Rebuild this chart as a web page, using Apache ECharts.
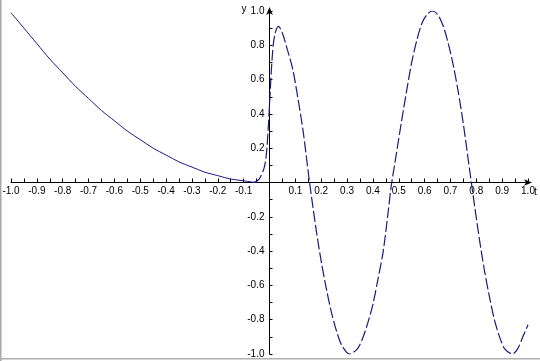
<!DOCTYPE html>
<html>
<head>
<meta charset="utf-8">
<script src="https://cdn.jsdelivr.net/npm/echarts@6/dist/echarts.min.js"></script>
<style>html,body{margin:0;padding:0;background:#fff;}#c{width:540px;height:361px;}</style>
</head>
<body>
<div id="c"></div>
<script>
// Left branch (solid)
var tLeft = [-1.0, -0.95, -0.9, -0.85, -0.8, -0.75, -0.7, -0.65, -0.6, -0.55, -0.5, -0.45, -0.4, -0.35, -0.3, -0.25, -0.2, -0.15, -0.1, -0.07, -0.05];
var yLeft = [0.99, 0.9, 0.81, 0.72, 0.64, 0.56, 0.49, 0.42, 0.36, 0.30, 0.25, 0.20, 0.16, 0.12, 0.09, 0.06, 0.04, 0.02, 0.01, 0.003, 0.0];
// Right branch (dashed)
var tRight = [-0.06, -0.04, -0.02, -0.01, 0.0, 0.01, 0.02, 0.035, 0.05, 0.07, 0.09, 0.11, 0.13, 0.155, 0.18, 0.20, 0.22, 0.24, 0.26, 0.28, 0.31, 0.34, 0.36, 0.38, 0.40, 0.42, 0.44, 0.46, 0.47, 0.49, 0.51, 0.53, 0.55, 0.57, 0.59, 0.61, 0.63, 0.65, 0.67, 0.69, 0.71, 0.73, 0.75, 0.77, 0.79, 0.81, 0.83, 0.85, 0.87, 0.89, 0.91, 0.94, 0.96, 0.98, 1.0];
var yRight = [0.0, 0.02, 0.09, 0.2, 0.45, 0.72, 0.86, 0.91, 0.87, 0.77, 0.66, 0.49, 0.30, 0.0, -0.27, -0.46, -0.62, -0.76, -0.87, -0.95, -1.0, -0.97, -0.91, -0.82, -0.71, -0.56, -0.40, -0.16, -0.03, 0.16, 0.35, 0.53, 0.70, 0.83, 0.93, 0.98, 1.0, 0.98, 0.92, 0.82, 0.69, 0.53, 0.34, 0.12, -0.10, -0.31, -0.50, -0.66, -0.80, -0.90, -0.97, -1.0, -0.97, -0.90, -0.83];
// Tick labels
var xLabelValues = [-1.0, -0.9, -0.8, -0.7, -0.6, -0.5, -0.4, -0.3, -0.2, -0.1, 0.1, 0.2, 0.3, 0.4, 0.5, 0.6, 0.7, 0.8, 0.9, 1.0];
var yLabelValues = [-1.0, -0.8, -0.6, -0.4, -0.2, 0.2, 0.4, 0.6, 0.8, 1.0];
var xName = 't', yName = 'y';

function pairs(xs, ys) { return xs.map(function (x, i) { return [x, ys[i]]; }); }
function hasVal(arr, v) { return arr.some(function (a) { return Math.abs(a - v) < 1e-6; }); }

var W = 540, H = 361;
var G = {left: 11, right: 12, top: 11, bottom: 7};
var gw = W - G.left - G.right, gh = H - G.top - G.bottom;

var lineColor = '#1a1a80';
var fontFam = "'Liberation Sans Narrow', 'Liberation Sans', Arial, sans-serif";

var chart = echarts.init(document.getElementById('c'), null, {renderer: 'canvas'});
chart.setOption({
  animation: false,
  backgroundColor: '#fff',
  grid: {left: G.left, right: G.right, top: G.top, bottom: G.bottom, containLabel: false, outerBoundsMode: 'none'},
  xAxis: {
    type: 'value', min: -1, max: 1, interval: 0.1,
    position: 'bottom', offset: -gh / 2,
    axisLine: {onZero: false, lineStyle: {color: '#000', width: 1}, symbol: ['none', 'arrow'], symbolSize: [5, 8], symbolOffset: [0, 4]},
    axisTick: {show: true, inside: true, length: 4, lineStyle: {color: '#000'}},
    minorTick: {show: true, splitNumber: 2, length: 4, lineStyle: {color: '#000'}},
    axisLabel: {
      color: '#000', fontFamily: fontFam, fontSize: 10, margin: 4, hideOverlap: false,
      formatter: function (v) { return hasVal(xLabelValues, v) ? v.toFixed(1) : ''; }
    },
    splitLine: {show: false}
  },
  yAxis: {
    type: 'value', min: -1, max: 1, interval: 0.1,
    position: 'left', offset: -gw / 2,
    axisLine: {onZero: false, lineStyle: {color: '#000', width: 1}, symbol: ['none', 'arrow'], symbolSize: [5, 8], symbolOffset: [0, 4]},
    axisTick: {show: true, inside: true, length: 3, lineStyle: {color: '#000'}},
    axisLabel: {
      color: '#000', fontFamily: fontFam, fontSize: 10, margin: 5, hideOverlap: false,
      formatter: function (v) { return hasVal(yLabelValues, v) ? v.toFixed(1) : ''; }
    },
    splitLine: {show: false}
  },
  series: [
    {
      type: 'line', data: pairs(tLeft, yLeft), smooth: 0.3, showSymbol: false,
      lineStyle: {color: lineColor, width: 1, type: 'solid'}, z: 3
    },
    {
      type: 'line', data: pairs(tRight, yRight), smooth: 0.3, showSymbol: false,
      lineStyle: {color: lineColor, width: 1.2, type: [11, 3]}, z: 3
    }
  ]
});

// Axis names and frame placed relative to axis ends via the library's own scales
var xEnd = chart.convertToPixel({gridIndex: 0}, [1, 0]);
var yEnd = chart.convertToPixel({gridIndex: 0}, [0, 1]);
chart.setOption({
  graphic: [
    {type: 'text', x: xEnd[0] + 6, y: xEnd[1] + 5, style: {text: xName, fill: '#000', font: '10px ' + fontFam}, silent: true},
    {type: 'text', x: yEnd[0] - 28, y: yEnd[1] - 7, style: {text: yName, fill: '#000', font: '10px ' + fontFam}, silent: true},
    {type: 'rect', left: 0, top: 0, shape: {width: 1.5, height: H}, style: {fill: '#a8a8a8'}, silent: true},
    {type: 'rect', left: 0, top: H - 3, shape: {width: W, height: 1.5}, style: {fill: '#b0b0b0'}, silent: true}
  ]
});
</script>
</body>
</html>
